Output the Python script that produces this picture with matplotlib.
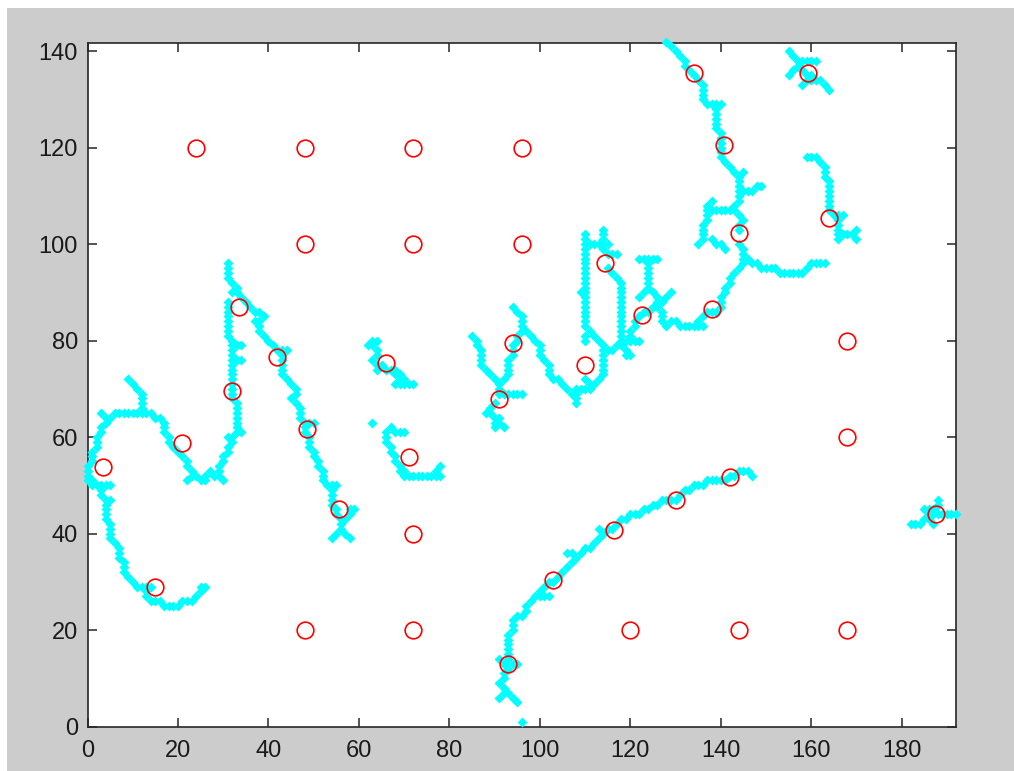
import numpy as np
import matplotlib
matplotlib.use('Agg')
import matplotlib.pyplot as plt
from matplotlib.patches import Rectangle

# skeleton pixels, one list per stroke, (x, y)
trazo_c = [(9,72),(10,71),(11,70),(12,69),(12,68),(12,67),(12,66),(12,65),
    (3,65),(4,64),(5,64),(6,65),(7,65),(8,65),(9,65),(10,65),(11,65),(13,65),(14,65),(15,64),(16,64),
    (17,63),(17,62),(17,61),(18,60),(18,59),(19,58),(20,57),(21,56),(22,55),(22,54),(23,53),(23,52),(22,51),
    (24,52),(25,51),(26,51),(26,52),(27,53),(28,52),(29,52),(30,51),(29,53),(29,54),(30,55),(30,56),
    (31,57),(31,58),(32,59),(32,60),(33,61),(34,61),(31,60),
    (4,63),(3,62),(3,61),(2,60),(2,59),(2,58),(1,57),(1,56),(1,55),(0,54),(0,53),(0,52),(0,51),(1,51),(1,50),
    (2,50),(3,50),(4,50),(5,50),(3,49),(3,48),(4,47),(5,47),(4,46),(4,45),(4,44),(4,43),
    (5,42),(5,41),(5,40),(5,39),(6,38),(7,37),(7,36),(7,35),(8,34),(8,33),(8,32),(9,31),(10,30),
    (11,29),(12,29),(13,29),(14,29),(13,28),(13,27),(14,26),(15,26),(16,26),(17,25),(18,25),(19,25),(20,25),
    (21,26),(22,26),(23,26),(24,27),(25,28),(25,29),(26,29)]

trazo_a = [(31,96),(31,95),(31,94),(31,93),(32,92),(33,91),(32,90),(33,90),(34,89),(35,88),(36,87),(37,86),(38,86),(39,85),
    (38,84),(37,84),(38,83),(38,82),(39,81),(40,80),(41,79),(42,78),(43,78),(44,78),(43,77),(43,76),(43,75),(43,74),(43,73),
    (44,72),(45,71),(46,70),(46,69),(45,68),(46,67),(47,66),(47,65),(47,64),(48,63),(49,63),(50,63),(48,62),(48,61),
    (49,60),(49,59),(49,58),(50,57),(50,56),(51,55),(51,54),(52,53),(52,52),(52,51),(53,50),(54,50),(55,50),
    (54,49),(54,48),(54,47),(54,46),(55,45),(55,44),(56,43),(57,43),(58,44),(59,45),(58,45),(56,42),(56,41),(55,40),(54,39),(57,40),(58,39),
    (31,88),(31,87),(31,86),(31,85),(31,84),(31,83),(31,82),(31,81),(32,80),(32,79),(33,79),(34,79),(32,78),(32,77),(32,76),(33,76),(34,76),
    (32,75),(32,74),(32,73),(32,72),(32,71),(32,70),(32,69),(32,68),(33,67),(33,66),(33,65),(33,64),(33,63),(33,62)]

trazo_i = [(62,79),(63,80),(64,80),(63,79),(64,78),(64,77),(63,76),(64,75),(64,74),(65,75),(66,74),(67,74),(68,74),(68,73),(69,73),(70,72),(71,71),
    (72,71),(70,71),(69,71),(68,71),(69,72)]

trazo_n = [(63,63),(67,62),(68,61),(69,61),(70,61),(66,61),(66,60),(66,59),(67,58),(67,57),(68,56),(68,55),(69,54),(69,53),(70,53),
    (70,52),(71,52),(72,52),(73,52),(74,52),(75,52),(76,52),(77,52),(78,52),(77,53),(78,54)]

trazo_m = [(85,81),(86,80),(86,79),(87,78),(87,77),(87,76),(87,75),(88,74),(89,73),(90,72),(91,71),(91,70),(91,69),(92,69),(93,69),(94,69),(95,69),(96,69),
    (90,67),(89,66),(88,65),(89,65),(90,64),(91,64),(90,63),(90,62),(91,63),(92,62),
    (92,72),(93,73),(93,74),(93,75),(93,76),(94,77),(94,78),(94,79),(95,80),(95,81),(96,82),(96,83),(96,84),(96,85),(95,86),(94,87),
    (97,82),(98,81),(99,80),(100,79),(100,78),(100,77),(101,76),(102,75),(102,74),(102,73),(103,72),(104,72),(105,71),(106,70),(107,69),
    (108,69),(108,68),(108,67),(108,70),(109,70),(110,70),(111,70),(110,72),(111,71),(112,71),(113,72),(114,73),(114,74),(114,75),(114,76),(114,77),
    (115,78),(116,78),(117,79),(118,79)]

trazo_e = [(110,102),(110,101),(110,100),(110,99),(110,98),(110,97),(110,96),(110,95),(110,94),(110,93),(110,92),(110,91),(110,90),(109,90),
    (110,89),(110,88),(110,87),(110,86),(110,85),(110,84),(110,83),(111,82),(112,81),(113,80),(114,79),(114,78),(110,81),(110,80),
    (111,100),(112,100),(113,100),(114,100),(115,100),(114,103),(114,102),(114,101),(114,99),(115,98),(116,98),(117,98),(115,95),(116,94),(117,93),
    (118,92),(118,91),(118,90),(118,89),(118,88),(118,87),(118,86),(118,85),(118,84),(118,83),(118,82),(118,81),(118,80),(119,78),(119,77),(120,77),
    (119,80),(120,80),(121,80),(122,80),(120,81),(120,82),(121,83),(121,84),(122,85),(123,86),(124,86),(125,87),(126,87),
    (127,86),(127,85),(127,84),(128,83),(129,84),(130,84),(131,83),(132,83),(133,83),(134,83),(135,83),(136,83),(135,84),(136,85),(137,86),(138,86),(139,86),(140,87),
    (122,97),(123,97),(124,97),(125,97),(126,97),(124,96),(124,95),(124,94),(124,93),(124,92),(124,91),(123,90),(122,89),(125,90),(126,89),(126,88),(127,88),(128,89),(129,90),
    (140,88),(140,89),(141,90),(141,91),(142,92),(142,93),(143,94),(144,95),(145,96),(145,97),(146,97),(147,96),(148,96),(149,95),(150,95),(151,95),(152,95),
    (153,94),(154,94),(155,94),(156,94),(157,94),(158,94),(159,95),(160,96),(161,96),(162,96),(163,96)]

trazo_t = [(144,100),(145,99),(145,98),(144,103),(144,104),(145,105),(144,106),(143,107),(142,107),(141,107),(140,107),(139,107),(138,107),(137,107),
    (138,109),(137,108),(137,106),(137,105),(136,104),(136,103),(136,102),(136,101),(135,100),(138,101),(139,100),(140,100),(141,99),
    (143,108),(144,109),(144,110),(144,111),(144,112),(144,113),(145,111),(146,111),(147,111),(148,112),(149,112),(144,114),(145,115),(143,115),
    (142,116),(141,117),(140,118),(140,119),(140,120),(140,121),(140,122),(140,123),(139,124),(139,125),(139,126),(139,127),(139,128),
    (137,129),(138,129),(139,129),(140,129),(136,130),(136,131),(136,132),(136,133),(135,134),(134,135),(133,136),(132,137),(132,138),(131,139),(130,140),(129,141),(128,142)]

trazo_arriba = [(155,140),(156,139),(157,138),(158,138),(159,138),(160,138),(161,138),(156,136),(155,135),(157,137),(158,136),(159,135),(160,135),
    (158,133),(159,134),(160,134),(161,134),(162,134),(163,133),(164,132)]

trazo_der = [(159,118),(160,118),(161,118),(162,117),(163,116),(163,115),(163,114),(164,113),(164,112),(164,111),(164,110),(164,109),(164,108),(164,107),
    (165,106),(166,106),(167,106),(166,105),(166,104),(166,103),(166,102),(166,101),(167,102),(168,102),(169,102),(170,103),(170,101)]

trazo_arco = [(96,1),(95,5),(94,6),(93,7),(92,8),(91,9),(91,6),(92,7),(92,10),(92,11),(93,12),(92,13),(91,14),(95,13),(94,13),(93,14),(93,15),(93,16),(93,17),(93,18),(93,19),
    (94,20),(94,21),(94,22),(95,23),(96,23),(97,24),(97,25),(98,26),(99,27),(100,27),(101,27),(102,27),(100,28),(101,29),(102,30),(103,30),(104,31),(105,32),(106,33),(107,34),(107,36),(106,36),
    (108,35),(109,36),(110,37),(111,37),(112,38),(113,39),(114,40),(113,41),(115,41),(116,41),(117,42),(118,43),(119,43),(120,44),(121,44),(122,44),(123,45),(124,45),(125,46),(126,46),
    (127,47),(128,47),(129,47),(130,47),(131,48),(132,49),(133,49),(134,50),(135,50),(136,50),(137,51),(138,51),(139,51),(140,51),(141,51),(142,52),(143,52),(144,53),(145,53),(146,53),(147,52)]

trazo_punto = [(182,42),(183,42),(184,42),(185,43),(186,43),(187,42),(185,45),(186,45),(186,44),(187,44),(188,44),(187,45),(188,46),(188,47),(189,44),(190,44),(191,44),(192,44)]

# red circles
circ_x = [24,48,72,96,48,72,96,168,168,72,48,72,120,144,168,
    3.5,15,21,32,33.5,42,48.5,55.5,66,71,91,94,110,114.5,122.5,138,144,134,140.7,159.2,164,187.6,142,130,116.5,103,93]
circ_y = [120,120,120,120,100,100,100,80,60,40,20,20,20,20,20,
    53.7,29,58.7,69.5,87,76.7,61.7,45,75.3,55.8,67.8,79.5,75,96,85.3,86.5,102.4,135.5,120.5,135.5,105.5,44,51.7,47,40.8,30.4,13]

xticks = [0,20,40,60,80,100,120,140,160,180]
yticks = [0,20,40,60,80,100,120,140]

W, H = 1014, 771
fig = plt.figure(figsize=(W/100, H/100), dpi=100, facecolor='white')
fig.patches.append(Rectangle((7/W, 0), 1-7/W, 1-8/H, transform=fig.transFigure, facecolor='#cccccc', edgecolor='none', zorder=-1))

ax = fig.add_axes([87.5/W, (H-726.5)/H, 868.5/W, 683.5/H], facecolor='white')

trazos = [trazo_c, trazo_a, trazo_i, trazo_n, trazo_m, trazo_e, trazo_t, trazo_arriba, trazo_der, trazo_arco, trazo_punto]
for t in trazos:
    p = np.array(t)
    ax.plot(p[:,0], p[:,1], ls='none', marker='D', ms=5.4, mfc='#00ffff', mec='none', clip_on=False, zorder=3)

ax.plot(circ_x, circ_y, ls='none', marker='o', ms=12, mfc='none', mec='#ff0000', mew=1.2, zorder=4)

ax.set_xlim(0, 192)
ax.set_ylim(0, 141.7)
ax.set_xticks(xticks)
ax.set_yticks(yticks)
ax.tick_params(direction='in', length=6.5, width=1.1, color='#262626', top=True, right=True,
               labelsize=17, labelcolor='#1a1a1a')
ax.tick_params(axis='x', pad=10)
ax.tick_params(axis='y', pad=7)
for l in ax.get_xticklabels() + ax.get_yticklabels():
    l.set_fontfamily('Liberation Sans')
for s in ax.spines.values():
    s.set_linewidth(1.2)
    s.set_color('#262626')

fig.savefig('out.png', dpi=100, facecolor=fig.get_facecolor())
